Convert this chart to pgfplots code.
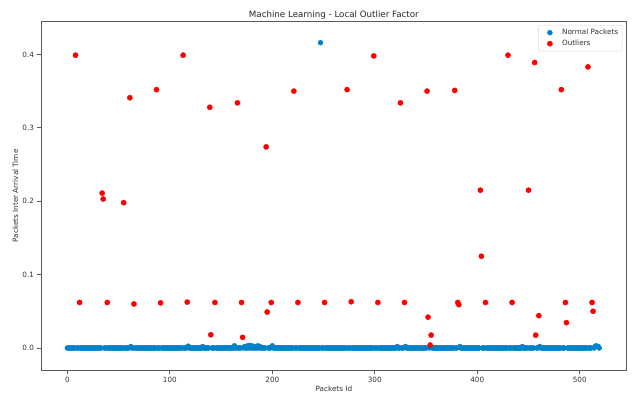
\documentclass[border=0pt]{standalone}
\usepackage{fontspec}
\setmainfont{DejaVu Sans}
\usepackage{pgfplots}
\pgfplotsset{compat=1.18}
\definecolor{normalblue}{RGB}{0,130,200}
\definecolor{spine}{gray}{0.35}
\begin{document}
\begin{tikzpicture}
\begin{axis}[
  scale only axis, width=585.7bp, height=348.3bp,
  xmin=-25.7, xmax=545.8, ymin=-0.030, ymax=0.4446,
  axis line style={spine, line width=0.9bp},
  tick align=outside, major tick length=3.5bp,
  tick style={spine, line width=0.7bp},
  xtick={0,100,200,300,400,500}, ytick={0,0.1,0.2,0.3,0.4},
  xtick pos=left, ytick pos=left,
  scaled y ticks=false,
  y tick label style={/pgf/number format/fixed, /pgf/number format/fixed zerofill, /pgf/number format/precision=1},
  /pgf/number format/assume math mode=true,
  tick label style={font=\fontsize{7.25bp}{8.5bp}\selectfont, text=black!80},
  title={Machine Learning - Local Outlier Factor},
  title style={font=\fontsize{8.7bp}{10bp}\selectfont, text=black!85, yshift=-7bp},
  xlabel={Packets Id}, ylabel={Packets Inter Arrival Time},
  xlabel shift=-3.5bp, ylabel shift=-2.5bp,
  label style={font=\fontsize{7.25bp}{8.5bp}\selectfont, text=black!80},
  legend style={at={(0.9925,0.9905)}, anchor=north east, draw=black!15, rounded corners=2bp,
    font=\fontsize{7.25bp}{8.5bp}\selectfont, text=black!80, inner sep=2bp, row sep=0bp},
  legend image code/.code={\path (-9bp,0bp) (10bp,0bp); \draw[#1] plot coordinates {(0bp,0bp)};},
  legend cell align=left,
]
\addplot[only marks, mark=*, mark size=2.5bp, color=normalblue, mark options={draw=normalblue, fill=normalblue}] coordinates {
(0,0)(1,0)(2,0)(3,0)(4,0)(5,0)(6,0)(7,0)(9,0)
(10,0)(11,0)(13,0)(14,0)(15,0)(16,0)(17,0)(18,0)(19,0)
(20,0)(21,0)(22,0)(23,0)(24,0)(25,0)(26,0)(27,0)(28,0)(29,0)
(30,0)(31,0)(32,0)(33,0)(36,0)(37,0)(38,0)
(40,0)(41,0)(42,0)(43,0)(44,0)(45,0)(46,0)(47,0)(48,0)(49,0)
(50,0)(51,0)(52,0)(53,0)(54,0)(56,0)(57,0)(58,0)(59,0)
(60,0)(62,0.002)(63,0)(64,0)(66,0)(67,0)(68,0)(69,0)
(70,0)(71,0)(72,0)(73,0)(74,0)(75,0)(76,0)(77,0)(78,0)(79,0)
(80,0)(81,0)(82,0)(83,0)(84,0)(85,0)(86,0)(88,0)(89,0)
(90,0)(92,0)(93,0)(94,0)(95,0)(96,0)(97,0)(98,0)(99,0)
(100,0)(101,0)(102,0)(103,0)(104,0)(105,0)(106,0)(107,0)(108,0)(109,0)
(110,0)(111,0)(112,0)(114,0)(115,0)(116,0)(118,0.0025)(119,0)
(120,0)(121,0)(122,0)(123,0)(124,0)(125,0)(126,0)(127,0)(128,0)(129,0)
(130,0)(131,0)(132,0.002)(133,0)(134,0)(135,0)(136,0)(137,0)(138,0)
(141,0)(142,0)(143,0)(145,0)(146,0)(147,0)(148,0)(149,0)
(150,0)(151,0)(152,0)(153,0)(154,0)(155,0)(156,0)(157,0)(158,0)(159,0)
(160,0)(161,0)(162,0)(163,0.003)(164,0)(165,0)(167,0)(168,0)(169,0)
(172,0)(173,0.002)(174,0)(175,0)(176,0.003)(177,0)(178,0.0035)(179,0)
(180,0.003)(181,0)(182,0)(183,0.002)(184,0)(185,0)(186,0.003)(187,0)(188,0.002)(189,0)
(190,0)(191,0)(192,0)(193,0)(196,0)(197,0)(198,0)
(200,0.003)(201,0)(202,0)(203,0)(204,0)(205,0)(206,0)(207,0)(208,0)(209,0)
(210,0)(211,0)(212,0)(213,0)(214,0)(215,0)(216,0)(217,0)(218,0)(219,0)
(220,0)(222,0)(223,0)(224,0)(226,0)(227,0)(228,0)(229,0)
(230,0)(231,0)(232,0)(233,0)(234,0)(235,0)(236,0)(237,0)(238,0)(239,0)
(240,0)(241,0)(242,0)(243,0)(244,0)(245,0)(246,0)(247,0.416)(248,0)(249,0)
(250,0)(252,0)(253,0)(254,0)(255,0)(256,0)(257,0)(258,0)(259,0)
(260,0)(261,0)(262,0)(263,0)(264,0)(265,0)(266,0)(267,0)(268,0)(269,0)
(270,0)(271,0)(272,0)(274,0)(275,0)(276,0)(278,0)(279,0)
(280,0)(281,0)(282,0)(283,0)(284,0)(285,0)(286,0)(287,0)(288,0)(289,0)
(290,0)(291,0)(292,0)(293,0)(294,0)(295,0)(296,0)(297,0)(298,0)
(300,0)(301,0)(302,0)(304,0)(305,0)(306,0)(307,0)(308,0)(309,0)
(310,0)(311,0)(312,0)(313,0)(314,0)(315,0)(316,0)(317,0)(318,0)(319,0)
(320,0)(321,0)(322,0.002)(323,0)(324,0)(326,0)(327,0)(328,0)
(330,0.002)(331,0)(332,0)(333,0)(334,0)(335,0)(336,0)(337,0)(338,0)(339,0)
(340,0)(341,0)(342,0)(343,0)(344,0)(345,0)(346,0)(347,0)(348,0)(349,0)
(350,0)(353,0)(356,0)(357,0)(358,0)(359,0)
(360,0)(361,0)(362,0)(363,0)(364,0)(365,0)(366,0)(367,0)(368,0)(369,0)
(370,0)(371,0)(372,0)(373,0)(374,0)(375,0)(376,0)(377,0)(379,0)
(380,0)(383,0.002)(384,0)(385,0)(386,0)(387,0)(388,0)(389,0)
(390,0)(391,0)(392,0)(393,0)(394,0)(395,0)(396,0)(397,0)(398,0)(399,0)
(400,0)(401,0)(402,0)(405,0)(406,0)(407,0)(409,0)
(410,0)(411,0)(412,0)(413,0)(414,0)(415,0)(416,0)(417,0)(418,0)(419,0)
(420,0)(421,0)(422,0)(423,0)(424,0)(425,0)(426,0)(427,0)(428,0)(429,0)
(431,0)(432,0)(433,0)(435,0)(436,0)(437,0)(438,0)(439,0)
(440,0)(441,0)(442,0)(443,0)(444,0.002)(445,0)(446,0)(447,0)(448,0)(449,0)
(451,0)(452,0)(453,0)(454,0)(455,0)(458,0)(459,0)
(461,0.002)(462,0)(463,0)(464,0)(465,0)(466,0)(467,0)(468,0)(469,0)
(470,0)(471,0)(472,0)(473,0)(474,0)(475,0)(476,0)(477,0)(478,0)(479,0)
(480,0)(481,0)(483,0)(484,0)(485,0)(488,0)(489,0)
(490,0)(491,0)(492,0)(493,0)(494,0)(495,0)(496,0)(497,0)(498,0)(499,0)
(500,0)(501,0)(502,0)(503,0)(504,0)(505,0)(506,0)(507,0)(509,0)
(510,0)(511,0)(514,0)(515,0.002)(516,0.003)(517,0.002)(518,0.002)(519,0)
};
\addlegendentry{Normal Packets}
\addplot[only marks, mark=*, mark size=2.6bp, color=red, mark options={draw=red, fill=red}] coordinates {
(8,0.399)(12,0.062)(34,0.211)(35,0.203)(39,0.062)(55,0.198)(61,0.341)(65,0.060)
(87,0.352)(91,0.0615)(113,0.399)(117,0.0625)(139,0.328)(140,0.018)(144,0.062)
(166,0.334)(170,0.062)(171,0.0145)(194,0.274)(195,0.049)(199,0.062)(221,0.350)
(225,0.062)(251,0.062)(273,0.352)(277,0.063)(299,0.398)(303,0.062)(325,0.334)
(329,0.062)(351,0.350)(352,0.042)(354,0.004)(355,0.0175)(378,0.351)(381,0.062)
(382,0.059)(403,0.215)(404,0.125)(408,0.062)(430,0.399)(434,0.062)(450,0.215)
(456,0.389)(457,0.0175)(460,0.044)(482,0.352)(486,0.062)(487,0.0345)(508,0.383)
(512,0.062)(513,0.050)
};
\addlegendentry{Outliers}
\end{axis}
\pgfresetboundingbox
\path (-41bp,-25bp) rectangle (594bp,370bp);
\end{tikzpicture}
\end{document}
